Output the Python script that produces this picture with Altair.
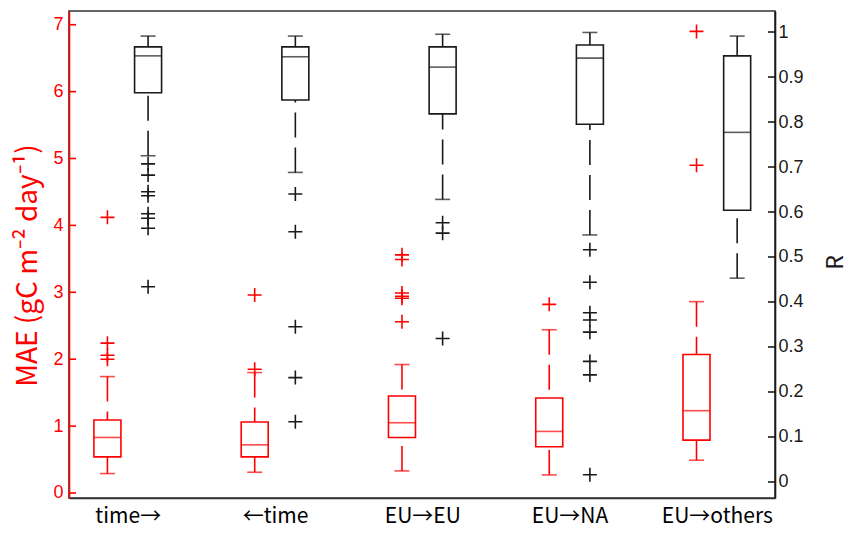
import json
import altair as alt
import pandas as pd

# ---------------- data ----------------
categories = ["time→", "←time", "EU→EU", "EU→NA", "EU→others"]

# MAE (left axis, red)
mae_lower = [0.29, 0.31, 0.33, 0.27, 0.49]
mae_q1 = [0.54, 0.54, 0.83, 0.69, 0.79]
mae_median = [0.83, 0.72, 1.05, 0.92, 1.23]
mae_q3 = [1.09, 1.06, 1.45, 1.42, 2.07]
mae_upper = [1.74, 1.80, 1.92, 2.44, 2.86]
mae_outliers = [
    [2.00, 2.06, 2.24, 4.12],
    [1.85, 2.96],
    [2.56, 2.91, 2.94, 2.99, 3.49, 3.56],
    [2.82],
    [4.90, 6.90],
]

# R (right axis, black)
r_lower = [0.725, 0.688, 0.628, 0.549, 0.453]
r_q1 = [0.865, 0.849, 0.818, 0.795, 0.604]
r_median = [0.947, 0.945, 0.922, 0.942, 0.777]
r_q3 = [0.967, 0.967, 0.967, 0.971, 0.947]
r_upper = [0.991, 0.991, 0.995, 0.999, 0.991]
r_outliers = [
    [0.707, 0.682, 0.645, 0.636, 0.596, 0.586, 0.564, 0.434],
    [0.640, 0.556, 0.345, 0.232, 0.134],
    [0.576, 0.553, 0.319],
    [0.516, 0.444, 0.376, 0.360, 0.333, 0.268, 0.238, 0.016],
    [],
]

mae_ticks = [0, 1, 2, 3, 4, 5, 6, 7]
r_ticks = [0, 0.1, 0.2, 0.3, 0.4, 0.5, 0.6, 0.7, 0.8, 0.9, 1.0]

# ---------------- styling ----------------
RED = "#ff0000"
BLACK = "#1a1a1a"
AXISGREY = "#333333"
OFFSET = 0.138          # side-by-side offset in category units
W, H = 706, 487
BOXW, CAPW, LW = 27, 15, 1.6
LABEL_FONT = "Liberation Sans"
TEXT_FONT = "Noto Sans CJK SC"


def box_frame(lower, q1, med, q3, upper, sign):
    return pd.DataFrame({
        "pos": [i + 1 + sign * OFFSET for i in range(len(categories))],
        "lower": lower, "q1": q1, "median": med, "q3": q3, "upper": upper,
    })


def outlier_frame(outs, sign):
    rows = []
    for i, vals in enumerate(outs):
        for v in vals:
            rows.append({"pos": i + 1 + sign * OFFSET, "value": v})
    return pd.DataFrame(rows, columns=["pos", "value"])


xscale = alt.Scale(domain=[0.635, 5.361], nice=False, zero=False)
label_expr = json.dumps(categories, ensure_ascii=False) + "[datum.value - 1]"
xaxis = alt.Axis(values=[1, 2, 3, 4, 5], labelExpr=label_expr, ticks=False,
                 grid=False, title=None, labelFont=TEXT_FONT, labelFontSize=21,
                 labelColor="black", domainColor=AXISGREY, domainWidth=LW,
                 labelPadding=7)


def X():
    return alt.X("pos:Q", scale=xscale, axis=xaxis)


def group(boxes, outs, color, yscale, yaxis, tick_vals, tick_x0, tick_x1):
    def Y(field):
        return alt.Y(field, type="quantitative", scale=yscale, axis=yaxis)

    base = alt.Chart(boxes)
    whisk_up = base.mark_rule(color=color, strokeWidth=LW, strokeDash=[25, 10]).encode(
        x=X(), y=Y("upper"), y2="q3")
    whisk_lo = base.mark_rule(color=color, strokeWidth=LW, strokeDash=[25, 10]).encode(
        x=X(), y=Y("lower"), y2="q1")
    box = base.mark_bar(size=BOXW, fill="white", stroke=color, strokeWidth=LW).encode(
        x=X(), y=Y("q1"), y2="q3")
    med = base.mark_tick(orient="horizontal", size=BOXW, thickness=LW, color=color).encode(
        x=X(), y=Y("median"))
    cap_up = base.mark_tick(orient="horizontal", size=CAPW, thickness=LW, color=color).encode(
        x=X(), y=Y("upper"))
    cap_lo = base.mark_tick(orient="horizontal", size=CAPW, thickness=LW, color=color).encode(
        x=X(), y=Y("lower"))
    pts = alt.Chart(outs).mark_point(shape="M-1,0L1,0M0,-1L0,1", size=196, filled=False,
                                     stroke=color, strokeWidth=LW, opacity=1).encode(
        x=X(), y=Y("value"))
    ticks = alt.Chart(pd.DataFrame({"t": tick_vals})).mark_rule(
        color=color, strokeWidth=LW).encode(
        x=alt.value(tick_x0), x2=alt.value(tick_x1), y=Y("t"))
    return alt.layer(whisk_up, whisk_lo, box, med, cap_up, cap_lo, pts, ticks)


left_scale = alt.Scale(domain=[-0.075, 7.205], nice=False, zero=False)
left_axis = alt.Axis(orient="left", values=mae_ticks, format="d", ticks=False,
                     tickSize=0, grid=False, domainColor=RED, domainWidth=LW,
                     labelColor=RED, labelFont=LABEL_FONT, labelFontSize=18,
                     labelPadding=6,
                     title="MAE (gC m⁻² day⁻¹)", titleColor=RED, titleFont=TEXT_FONT,
                     titleFontSize=28, titleFontWeight="normal",
                     titleX=-41, titleY=254, titleAngle=270,
                     titleAlign="center", titleBaseline="middle")

right_scale = alt.Scale(domain=[-0.0356, 1.0467], nice=False, zero=False)
right_axis = alt.Axis(orient="right", values=r_ticks, format="~g", ticks=False,
                      tickSize=0, grid=False, domainColor=BLACK, domainWidth=LW,
                      labelColor=BLACK, labelFont=LABEL_FONT, labelFontSize=18,
                      labelPadding=3,
                      title="R", titleColor=BLACK, titleFont=TEXT_FONT, titleAngle=270,
                      titleFontSize=23, titleFontWeight="normal",
                      titleX=60, titleY=251, titleAlign="center", titleBaseline="middle")

red_group = group(box_frame(mae_lower, mae_q1, mae_median, mae_q3, mae_upper, -1),
                  outlier_frame(mae_outliers, -1), RED, left_scale, left_axis,
                  mae_ticks, 0, 7)
black_group = group(box_frame(r_lower, r_q1, r_median, r_q3, r_upper, +1),
                    outlier_frame(r_outliers, +1), BLACK, right_scale, right_axis,
                    r_ticks, W - 7, W)

chart = alt.layer(red_group, black_group).resolve_scale(y="independent").properties(
    width=W, height=H,
    autosize=alt.AutoSizeParams(type="none"),
    padding={"left": 69, "top": 11, "right": 76, "bottom": 35},
    background="white",
).configure_view(stroke=AXISGREY, strokeWidth=LW)

chart.save("out.html", embed_options={"renderer": "svg", "actions": False})
